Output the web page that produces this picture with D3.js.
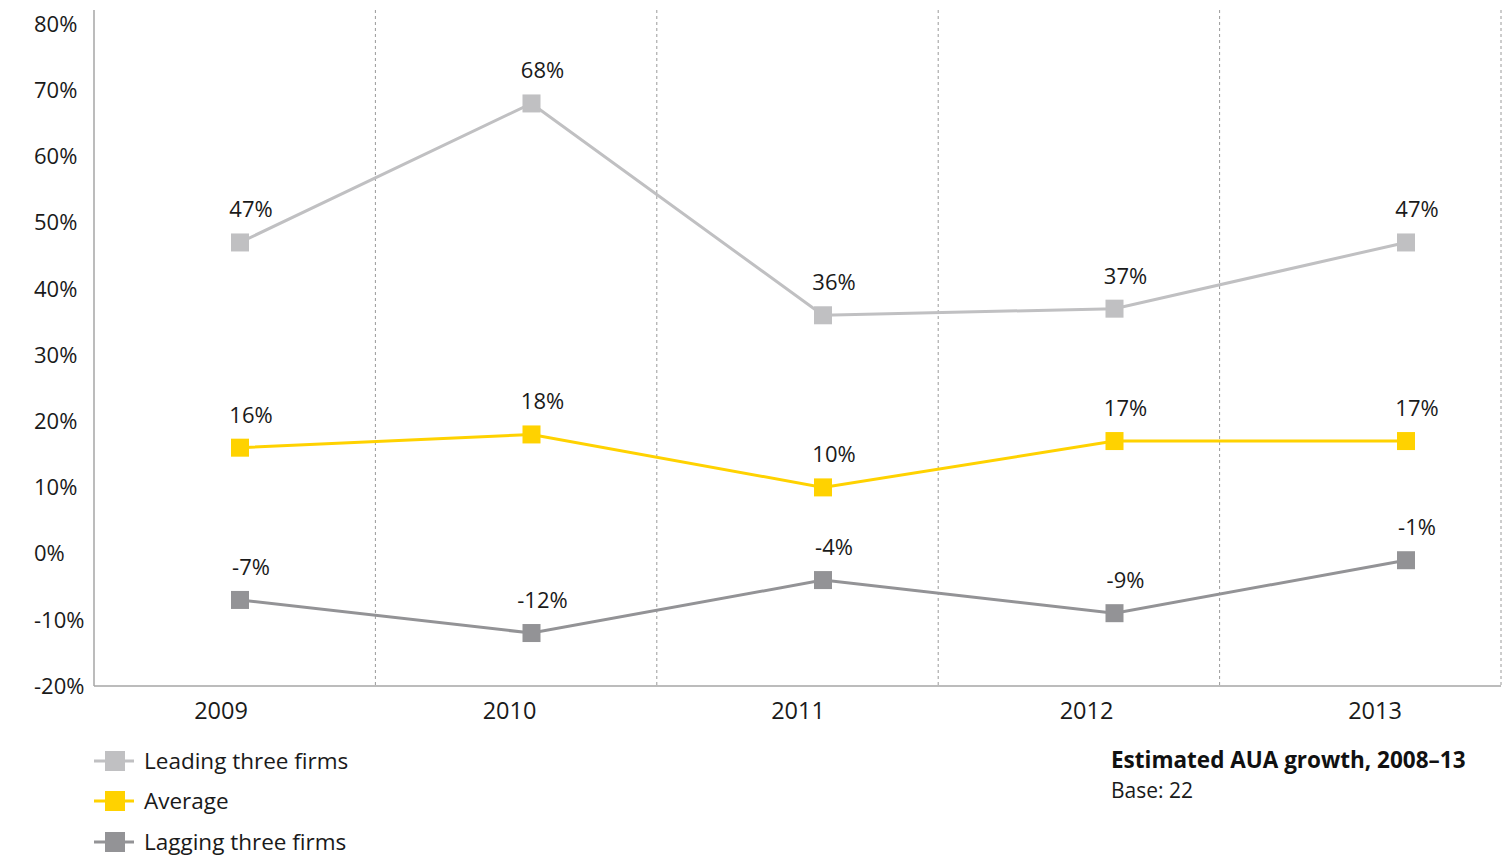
<!DOCTYPE html>
<html>
<head>
<meta charset="utf-8">
<script src="https://cdn.jsdelivr.net/npm/d3@7"></script>
<style>
  html, body { margin: 0; padding: 0; background: #fff; }
  svg { display: block; font-family: "Open Sans", "Noto Sans", sans-serif; }
</style>
</head>
<body>
<svg id="chart" width="1506" height="858"></svg>
<script>
// Estimated AUA growth per year, by firm group
const years = ["2009", "2010", "2011", "2012", "2013"];
const leading = [47, 68, 36, 37, 47];
const average = [16, 18, 10, 17, 17];
const lagging = [-7, -12, -4, -9, -1];
const yTicks = [80, 70, 60, 50, 40, 30, 20, 10, 0, -10, -20];
const seriesNames = ["Leading three firms", "Average", "Lagging three firms"];
const seriesColors = ["#c0c0c2", "#ffd200", "#939396"];
const chartTitle = "Estimated AUA growth, 2008–13";
const chartBase = "Base: 22";

const series = [
  { name: seriesNames[0], values: leading, color: seriesColors[0] },
  { name: seriesNames[1], values: average, color: seriesColors[1] },
  { name: seriesNames[2], values: lagging, color: seriesColors[2] }
];

const svg = d3.select("#chart");
const plot = { left: 94, right: 1501, top: 10, bottom: 686 };

const y = d3.scaleLinear().domain([-20, 80]).range([686, 24]);
const xBand = d3.scaleBand().domain(years).range([plot.left, plot.right]);
const xMark = d3.scalePoint().domain(years).range([240, 1406]);
const xLabel = d3.scalePoint().domain(years).range([221, 1375]);

// dashed separators between years
svg.append("g")
  .selectAll("line")
  .data(years)
  .join("line")
  .attr("x1", d => xBand(d) + xBand.bandwidth())
  .attr("x2", d => xBand(d) + xBand.bandwidth())
  .attr("y1", plot.top)
  .attr("y2", plot.bottom)
  .attr("stroke", "#9a9a9a")
  .attr("stroke-width", 1)
  .attr("stroke-dasharray", "3,3");

// axis lines
svg.append("line")
  .attr("x1", plot.left).attr("x2", plot.left)
  .attr("y1", plot.top).attr("y2", plot.bottom)
  .attr("stroke", "#a6a6a6").attr("stroke-width", 1.5);
svg.append("line")
  .attr("x1", plot.left).attr("x2", plot.right)
  .attr("y1", plot.bottom).attr("y2", plot.bottom)
  .attr("stroke", "#a6a6a6").attr("stroke-width", 1.5);

// y tick labels
svg.append("g")
  .selectAll("text")
  .data(yTicks)
  .join("text")
  .attr("x", 34)
  .attr("y", d => y(d))
  .attr("dy", "0.35em")
  .attr("font-size", 22)
  .attr("fill", "#1a1a1a")
  .text(d => d + "%");

// x labels
svg.append("g")
  .selectAll("text")
  .data(years)
  .join("text")
  .attr("x", d => xLabel(d))
  .attr("y", 719)
  .attr("text-anchor", "middle")
  .attr("font-size", 23.5)
  .attr("fill", "#1a1a1a")
  .text(d => d);

const line = d3.line()
  .x((d, i) => xMark(years[i]))
  .y(d => y(d));

const ms = 18;
series.forEach(s => {
  const g = svg.append("g");
  g.append("path")
    .attr("d", line(s.values))
    .attr("fill", "none")
    .attr("stroke", s.color)
    .attr("stroke-width", 3);
  g.selectAll("rect")
    .data(s.values)
    .join("rect")
    .attr("x", (d, i) => xMark(years[i]) - ms / 2)
    .attr("y", d => y(d) - ms / 2)
    .attr("width", ms)
    .attr("height", ms)
    .attr("fill", s.color);
  g.selectAll("text")
    .data(s.values)
    .join("text")
    .attr("x", (d, i) => xMark(years[i]) + 11)
    .attr("y", d => y(d) - 25)
    .attr("text-anchor", "middle")
    .attr("font-size", 22)
    .attr("fill", "#1a1a1a")
    .text(d => d + "%");
});

// legend
const legend = svg.append("g");
const rowsY = [761, 801, 842];
series.forEach((s, i) => {
  const row = legend.append("g").attr("transform", `translate(0,${rowsY[i]})`);
  row.append("line")
    .attr("x1", 94).attr("x2", 134)
    .attr("y1", 0).attr("y2", 0)
    .attr("stroke", s.color).attr("stroke-width", 3);
  row.append("rect")
    .attr("x", 105).attr("y", -10)
    .attr("width", 20).attr("height", 20)
    .attr("fill", s.color);
  row.append("text")
    .attr("x", 144).attr("y", 0)
    .attr("dy", "0.35em")
    .attr("font-size", 22.5)
    .attr("fill", "#1a1a1a")
    .text(s.name);
});

// title block
svg.append("text")
  .attr("x", 1111).attr("y", 768)
  .attr("font-size", 22.5)
  .attr("font-weight", "bold")
  .attr("fill", "#111")
  .text(chartTitle);
svg.append("text")
  .attr("x", 1111).attr("y", 798)
  .attr("font-size", 21)
  .attr("fill", "#1a1a1a")
  .text(chartBase);
</script>
</body>
</html>
